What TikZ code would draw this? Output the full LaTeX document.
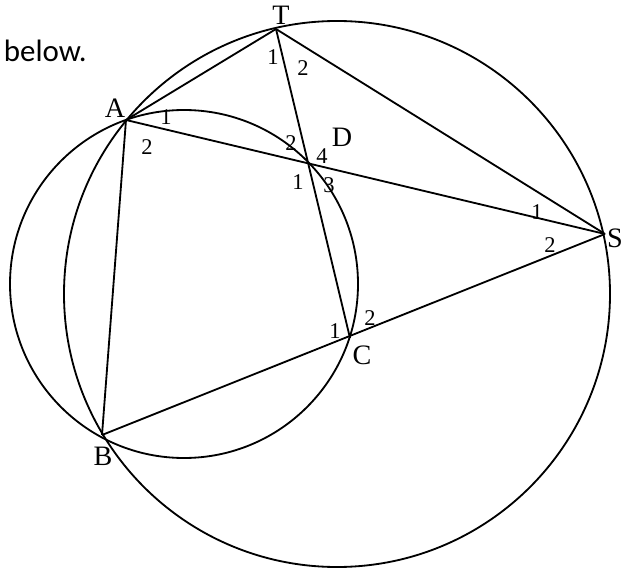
\documentclass[tikz,border=0pt]{standalone}
\usepackage{fontspec}
\setmainfont{Liberation Serif}
\newfontfamily\notefont{Carlito}
\usepackage{tikz}
\usetikzlibrary{calc}

\tikzset{
  ptlabel/.style={font=\fontsize{20}{20}\selectfont, inner sep=0pt},
  anglabel/.style={font=\fontsize{16}{16}\selectfont, inner sep=0pt},
}

\begin{document}
\begin{tikzpicture}[x=0.025cm, y=-0.025cm, line width=1.3pt]
    \useasboundingbox (0,0) rectangle (625,571);

    \node[anchor=base west, inner sep=0pt, font=\notefont\fontsize{22}{22}\selectfont] (note) at (3,62) {below.};

    \coordinate (T) at (276,29);
    \coordinate (A) at (126,120);
    \coordinate (S) at (605,234);
    \coordinate (C) at (350,338);
    \coordinate (B) at (102,435);
    \coordinate (D) at (intersection of A--S and T--C);

    % the two circles
    \draw (184,284) circle[radius=174];
    \draw (337,294) circle[radius=273];

    \draw (T) -- (A);
    \draw (T) -- (S);
    \draw (T) -- (C);
    \draw (A) -- (S);
    \draw (A) -- (B);
    \draw (B) -- (S);

    \node[ptlabel] (lT) at (281,15) {T};
    \node[ptlabel] (lA) at (115,108) {A};
    \node[ptlabel] (lD) at (342,137) {D};
    \node[ptlabel] (lS) at (615,238) {S};
    \node[ptlabel] (lC) at (362,355) {C};
    \node[ptlabel] (lB) at (103,456) {B};

    \node[anglabel] (t1) at (273,57) {1};
    \node[anglabel] (t2) at (303,68) {2};
    \node[anglabel] (a1) at (166,117) {1};
    \node[anglabel] (a2) at (147,147) {2};
    \node[anglabel] (d2) at (291,143) {2};
    \node[anglabel] (d4) at (322,156) {4};
    \node[anglabel] (d1) at (298,182) {1};
    \node[anglabel] (d3) at (329,185) {3};
    \node[anglabel] (s1) at (537,212) {1};
    \node[anglabel] (s2) at (550,245) {2};
    \node[anglabel] (c1) at (335,331) {1};
    \node[anglabel] (c2) at (370,318) {2};
\end{tikzpicture}
\end{document}
